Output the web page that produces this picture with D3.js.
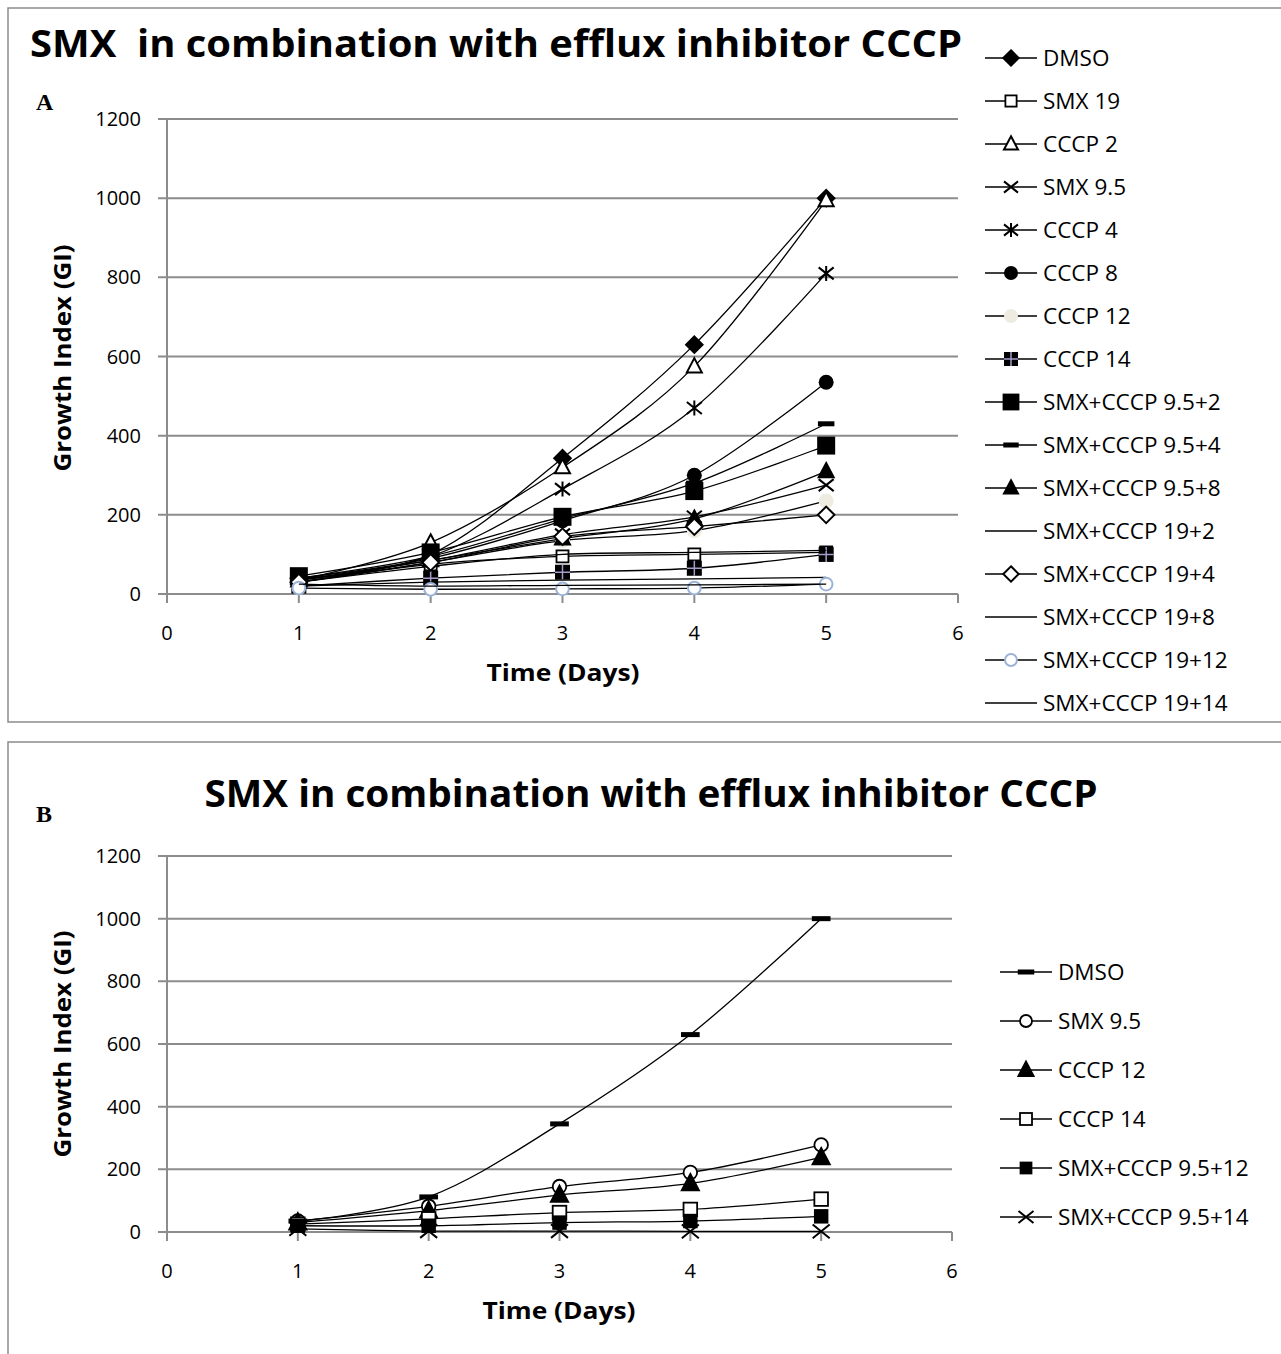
<!DOCTYPE html>
<html>
<head>
<meta charset="utf-8">
<script src="https://cdn.jsdelivr.net/npm/d3@7"></script>
<style>
body { margin: 0; background: white; }
text { font-family: "Open Sans", "Noto Sans", sans-serif; }
</style>
</head>
<body>
<script>
var days = [1, 2, 3, 4, 5];
var xTicks = [0, 1, 2, 3, 4, 5, 6];
var yTicks = [0, 200, 400, 600, 800, 1000, 1200];

// panel A series
var namesA = ["DMSO", "SMX 19", "CCCP 2", "SMX 9.5", "CCCP 4", "CCCP 8", "CCCP 12", "CCCP 14",
  "SMX+CCCP 9.5+2", "SMX+CCCP 9.5+4", "SMX+CCCP 9.5+8", "SMX+CCCP 19+2", "SMX+CCCP 19+4",
  "SMX+CCCP 19+8", "SMX+CCCP 19+12", "SMX+CCCP 19+14"];
var markersA = ["diamond", "squareOpen", "triangleOpen", "x", "star", "circle", "circleBeige", "squarePlus",
  "squareBig", "dash", "triangle", "none", "diamondOpen", "none", "circleBlue", "none"];
var valuesA = [
  [40, 100, 343, 630, 1000],
  [30, 75, 95, 100, 105],
  [35, 130, 320, 575, 995],
  [35, 85, 150, 195, 275],
  [35, 95, 265, 470, 810],
  [40, 90, 185, 300, 535],
  [30, 80, 135, 160, 235],
  [20, 40, 55, 65, 100],
  [45, 105, 195, 260, 375],
  [40, 95, 190, 280, 430],
  [35, 85, 140, 190, 310],
  [30, 70, 100, 105, 110],
  [30, 80, 145, 170, 200],
  [20, 30, 35, 38, 42],
  [15, 12, 13, 15, 25],
  [25, 20, 22, 23, 25]
];

// panel B series
var namesB = ["DMSO", "SMX 9.5", "CCCP 12", "CCCP 14", "SMX+CCCP 9.5+12", "SMX+CCCP 9.5+14"];
var markersB = ["dash", "circleOpen", "triangle", "squareOpen", "square", "x"];
var valuesB = [
  [35, 112, 345, 630, 1000],
  [35, 82, 145, 190, 278],
  [30, 68, 118, 155, 238],
  [25, 42, 62, 72, 105],
  [20, 20, 30, 35, 50],
  [10, 3, 3, 2, 2]
];

var svg = d3.select("body").append("svg")
  .attr("width", 1281)
  .attr("height", 1354);

// frames
svg.append("rect").attr("x", 8).attr("y", 8).attr("width", 1300).attr("height", 714)
  .attr("fill", "none").attr("stroke", "#8c8c8c").attr("stroke-width", 1.5);
svg.append("rect").attr("x", 8).attr("y", 742).attr("width", 1300).attr("height", 700)
  .attr("fill", "none").attr("stroke", "#8c8c8c").attr("stroke-width", 1.5);

function drawMarker(g, type, x, y, s) {
  var h = s / 2;
  if (type == "none") return;
  if (type == "diamond" || type == "diamondOpen") {
    g.append("path").attr("d", `M${x},${y-h*1.1}L${x+h*1.1},${y}L${x},${y+h*1.1}L${x-h*1.1},${y}Z`)
      .attr("fill", type == "diamond" ? "black" : "white").attr("stroke", "black").attr("stroke-width", 2);
  } else if (type == "squareOpen") {
    g.append("rect").attr("x", x-h*0.8).attr("y", y-h*0.8).attr("width", h*1.6).attr("height", h*1.6)
      .attr("fill", "white").attr("stroke", "black").attr("stroke-width", 1.8);
  } else if (type == "square" || type == "squareBig") {
    var k = type == "squareBig" ? 1.2 : 0.85;
    g.append("rect").attr("x", x-h*k).attr("y", y-h*k).attr("width", h*2*k).attr("height", h*2*k)
      .attr("fill", "black");
  } else if (type == "squarePlus") {
    g.append("rect").attr("x", x-h).attr("y", y-h).attr("width", s).attr("height", s).attr("fill", "black");
    g.append("path").attr("d", `M${x-h},${y}H${x+h}M${x},${y-h}V${y+h}`)
      .attr("stroke", "#a59ccb").attr("stroke-width", 1.5);
  } else if (type == "triangleOpen" || type == "triangle") {
    g.append("path").attr("d", `M${x},${y-h*1.1}L${x+h},${y+h*0.8}L${x-h},${y+h*0.8}Z`)
      .attr("fill", type == "triangle" ? "black" : "white").attr("stroke", "black").attr("stroke-width", 2);
  } else if (type == "x" || type == "star") {
    var d = `M${x-h},${y-h*0.8}L${x+h},${y+h*0.8}M${x+h},${y-h*0.8}L${x-h},${y+h*0.8}`;
    if (type == "star") d += `M${x},${y-h}V${y+h}`;
    g.append("path").attr("d", d).attr("stroke", "black").attr("stroke-width", 2).attr("fill", "none");
  } else if (type == "circle") {
    g.append("circle").attr("cx", x).attr("cy", y).attr("r", h).attr("fill", "black");
  } else if (type == "circleBeige") {
    g.append("circle").attr("cx", x).attr("cy", y).attr("r", h).attr("fill", "#eeece1");
  } else if (type == "circleBlue") {
    g.append("circle").attr("cx", x).attr("cy", y).attr("r", h*0.85).attr("fill", "white")
      .attr("stroke", "#9cb3d8").attr("stroke-width", 2);
  } else if (type == "circleOpen") {
    g.append("circle").attr("cx", x).attr("cy", y).attr("r", h*0.8).attr("fill", "white")
      .attr("stroke", "black").attr("stroke-width", 1.8);
  } else if (type == "dash") {
    g.append("rect").attr("x", x-h*1.1).attr("y", y-2.5).attr("width", h*2.2).attr("height", 5).attr("fill", "black");
  }
}

function drawPanel(cfg) {
  var g = svg.append("g");
  var xScale = d3.scaleLinear().domain([0, 6]).range([cfg.left, cfg.right]);
  var yScale = d3.scaleLinear().domain([0, 1200]).range([cfg.bottom, cfg.top]);

  // gridlines
  g.selectAll(".grid").data(yTicks).enter().append("line")
    .attr("x1", cfg.left - 9).attr("x2", cfg.right)
    .attr("y1", d => yScale(d)).attr("y2", d => yScale(d))
    .attr("stroke", "#8c8c8c").attr("stroke-width", 2);
  g.append("line").attr("x1", cfg.left).attr("x2", cfg.left)
    .attr("y1", cfg.top).attr("y2", cfg.bottom).attr("stroke", "#8c8c8c").attr("stroke-width", 2);
  g.selectAll(".xtick").data(xTicks).enter().append("line")
    .attr("x1", d => xScale(d)).attr("x2", d => xScale(d))
    .attr("y1", cfg.bottom).attr("y2", cfg.bottom + 9)
    .attr("stroke", "#8c8c8c").attr("stroke-width", 2);

  g.selectAll(".ylab").data(yTicks).enter().append("text")
    .attr("x", cfg.left - 26).attr("y", d => yScale(d) + 7)
    .attr("text-anchor", "end").attr("font-size", 20).text(d => d);
  g.selectAll(".xlab").data(xTicks).enter().append("text")
    .attr("x", d => xScale(d)).attr("y", cfg.bottom + 46)
    .attr("text-anchor", "middle").attr("font-size", 20).text(d => d);

  g.append("text").attr("x", cfg.xLabelX).attr("y", cfg.bottom + 87)
    .attr("text-anchor", "middle").attr("font-size", 24).attr("font-weight", "bold")
    .attr("textLength", 153).attr("lengthAdjust", "spacingAndGlyphs").text("Time (Days)");
  g.append("text").attr("transform", `translate(71,${cfg.yLabelY}) rotate(-90)`)
    .attr("text-anchor", "middle").attr("font-size", 24).attr("font-weight", "bold")
    .attr("textLength", 227).attr("lengthAdjust", "spacingAndGlyphs").text("Growth Index (GI)");

  g.append("text").attr("x", cfg.titleX).attr("y", cfg.titleY)
    .attr("text-anchor", cfg.titleAnchor).attr("font-size", 38).attr("font-weight", "bold")
    .attr("textLength", cfg.titleLen).attr("lengthAdjust", "spacingAndGlyphs")
    .style("white-space", "pre").text(cfg.title);
  g.append("text").attr("x", 36).attr("y", cfg.letterY).attr("font-size", 24).attr("font-weight", "bold")
    .style("font-family", "'Liberation Serif', 'DejaVu Serif', serif").text(cfg.letter);

  var line = d3.line().x((d, i) => xScale(days[i])).y(d => yScale(d))
    .curve(d3.curveCardinal.tension(0));

  cfg.values.forEach(function (vals, si) {
    g.append("path").attr("d", line(vals)).attr("fill", "none")
      .attr("stroke", "black").attr("stroke-width", 1.3);
    vals.forEach(function (v, i) {
      drawMarker(g, cfg.markers[si], xScale(days[i]), yScale(v), cfg.msize);
    });
  });

  // legend
  cfg.names.forEach(function (n, i) {
    var y = cfg.legTop + i * cfg.legStep;
    g.append("line").attr("x1", cfg.legX).attr("x2", cfg.legX + 52).attr("y1", y).attr("y2", y)
      .attr("stroke", "black").attr("stroke-width", 1.3);
    drawMarker(g, cfg.markers[i], cfg.legX + 26, y, cfg.legMsize);
    g.append("text").attr("x", cfg.legX + 58).attr("y", y + 8).attr("font-size", 22.5).text(n);
  });
}

drawPanel({
  left: 167, right: 958, top: 119, bottom: 594,
  values: valuesA, names: namesA, markers: markersA, msize: 15,
  title: "SMX  in combination with efflux inhibitor CCCP", titleX: 30, titleY: 57, titleAnchor: "start", titleLen: 932,
  letter: "A", letterY: 110, xLabelX: 563, yLabelY: 358,
  legX: 985, legTop: 58, legStep: 43, legMsize: 14
});

drawPanel({
  left: 167, right: 952, top: 856, bottom: 1232,
  values: valuesB, names: namesB, markers: markersB, msize: 17,
  title: "SMX in combination with efflux inhibitor CCCP", titleX: 651, titleY: 807, titleAnchor: "middle", titleLen: 893,
  letter: "B", letterY: 822, xLabelX: 559, yLabelY: 1044,
  legX: 1000, legTop: 972, legStep: 49, legMsize: 15
});
</script>
</body>
</html>
